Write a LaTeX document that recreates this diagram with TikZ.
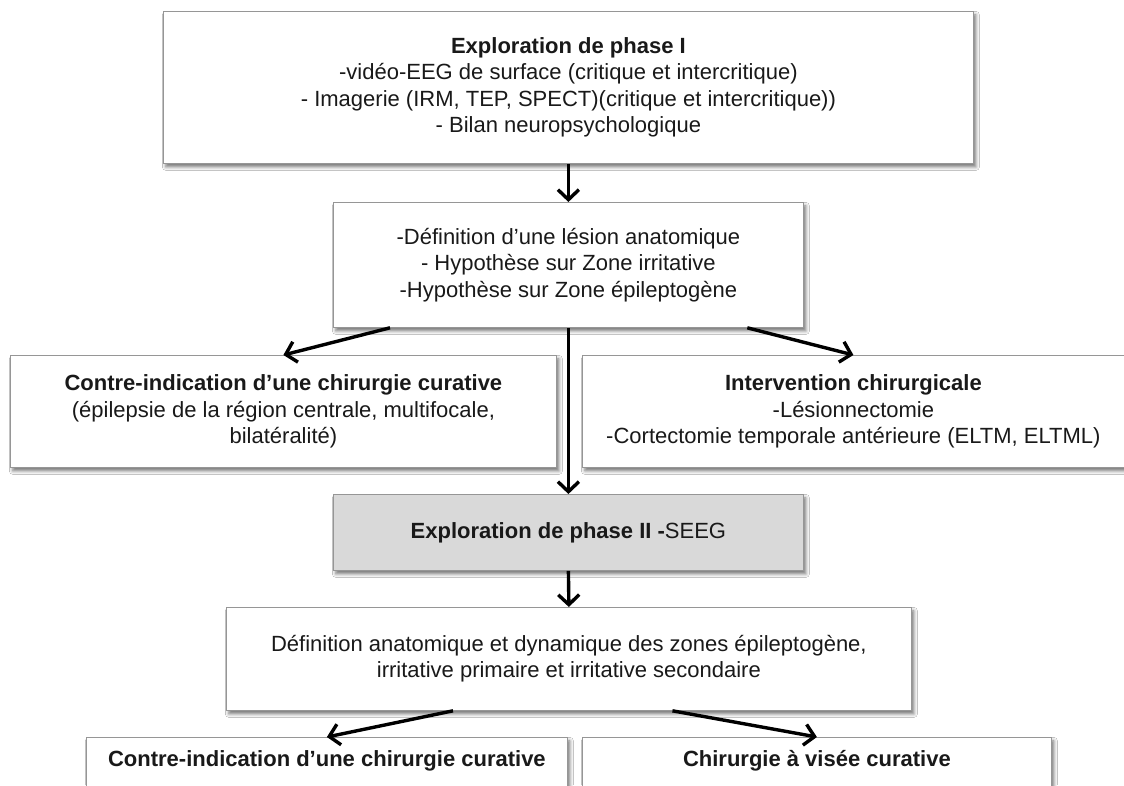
\documentclass[tikz,border=0pt]{standalone}
\usepackage{fontspec}
\setmainfont{Liberation Sans}
\usetikzlibrary{arrows.meta,calc,shadows.blur}
\definecolor{boxgray}{RGB}{217,217,217}
\definecolor{edgegray}{RGB}{150,150,150}
\tikzset{
  box/.style={draw=edgegray, line width=0.8pt, fill=white, align=center,
    inner sep=0pt, anchor=north west, text=black!90,
    font=\fontsize{22}{26.5}\selectfont,
    blur shadow={shadow xshift=2.5pt, shadow yshift=-3.5pt, shadow blur radius=3.5pt, shadow opacity=55}},
  conn/.style={line width=3.4pt, -{Straight Barb[length=10pt,width=21pt]}}
}
\begin{document}
\begin{tikzpicture}[x=1pt,y=-1pt]
\useasboundingbox (0,0) rectangle (1124,785);
\clip (0,0) rectangle (1124,785);
\fill[white] (0,0) rectangle (1124,785);

\node[box, minimum width=810pt, minimum height=152pt] (top) at (163,11)
  {\textbf{Exploration de phase I}\\-vidéo-EEG de surface (critique et intercritique)\\- Imagerie (IRM, TEP, SPECT)(critique et intercritique))\\- Bilan neuropsychologique};

\node[box, minimum width=470pt, minimum height=125pt] (sec) at (333,202)
  {-Définition d’une lésion anatomique\\- Hypothèse sur Zone irritative\\-Hypothèse sur Zone épileptogène};

\node[box, minimum width=546pt, minimum height=112pt] (lb) at (10,355)
  {\textbf{Contre-indication d’une chirurgie curative}\\(épilepsie de la région centrale, multifocale,\\bilatéralité)};

\node[box, minimum width=542pt, minimum height=112pt] (rb) at (582,355)
  {\textbf{Intervention chirurgicale}\\-Lésionnectomie\\-Cortectomie temporale antérieure (ELTM, ELTML)};

\node[box, fill=boxgray, minimum width=470pt, minimum height=76pt] (seeg) at (333,494)
  {\textbf{Exploration de phase II -}SEEG};

\node[box, minimum width=685pt, minimum height=103pt] (def) at (226,607)
  {Définition anatomique et dynamique des zones épileptogène,\\irritative primaire et irritative secondaire};

\node[box, minimum width=481pt, text height=29pt, text depth=70pt] (bl) at (86,737)
  {\textbf{Contre-indication d’une chirurgie curative}};

\node[box, minimum width=469pt, text height=29pt, text depth=70pt] (br) at (582,737)
  {\textbf{Chirurgie à visée curative}};

\draw[conn] (top.south) -- (sec.north);
\draw[conn] ($(sec.south west)!0.121!(sec.south east)$) -- (lb.north);
\draw[conn] ($(sec.south west)!0.88!(sec.south east)$) -- (rb.north);
\draw[conn] (sec.south) -- (seeg.north);
\draw[conn] (seeg.south) -- (def.north);
\draw[conn] ($(def.south west)!0.331!(def.south east)$) -- (bl.north);
\draw[conn] ($(def.south west)!0.651!(def.south east)$) -- (br.north);
\end{tikzpicture}
\end{document}
